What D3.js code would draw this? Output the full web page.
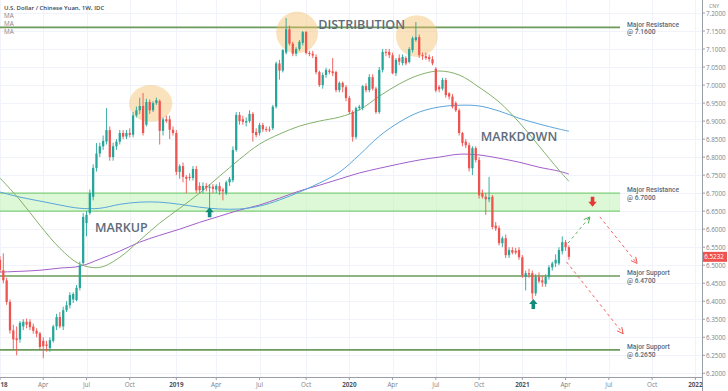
<!DOCTYPE html>
<html><head><meta charset="utf-8">
<script src="https://cdn.jsdelivr.net/npm/d3@7"></script>
<style>html,body{margin:0;padding:0;background:#fff;}svg{display:block;font-family:"Open Sans",sans-serif;}</style>
</head><body><svg id="c" width="728" height="391"></svg>
<script>
// ---------- DATA ----------
const firstWeek = "2017-12-25";
// weekly candles [open, high, low, close]
const ohlc2018 = [
[6.515,6.525,6.48,6.487],[6.486,6.533,6.45,6.458],[6.458,6.465,6.39,6.398],[6.398,6.405,6.31,6.319],
[6.319,6.335,6.264,6.294],[6.297,6.33,6.25,6.292],[6.294,6.345,6.285,6.340],[6.33,6.35,6.32,6.343],
[6.343,6.352,6.325,6.335],[6.343,6.35,6.32,6.328],[6.33,6.338,6.31,6.318],[6.318,6.325,6.30,6.31],
[6.311,6.315,6.265,6.273],[6.29,6.30,6.242,6.275],[6.28,6.29,6.26,6.276],[6.27,6.30,6.26,6.292],
[6.29,6.335,6.285,6.33],[6.33,6.365,6.32,6.356],[6.356,6.37,6.325,6.33],[6.33,6.385,6.32,6.375],
[6.375,6.40,6.37,6.389],[6.389,6.425,6.38,6.417],[6.405,6.425,6.395,6.42],[6.403,6.445,6.40,6.437],
[6.437,6.51,6.43,6.50],[6.506,6.645,6.50,6.634],[6.617,6.65,6.58,6.64],[6.645,6.71,6.64,6.70],
[6.69,6.78,6.68,6.77],[6.77,6.839,6.76,6.81],[6.81,6.84,6.80,6.83],[6.83,6.86,6.82,6.845],
[6.843,6.936,6.835,6.875],[6.875,6.885,6.79,6.80],[6.80,6.84,6.79,6.83],[6.83,6.85,6.82,6.843],
[6.843,6.875,6.835,6.867],[6.867,6.875,6.85,6.857],[6.857,6.875,6.85,6.867],[6.867,6.88,6.855,6.862],
[6.862,6.925,6.855,6.916],[6.916,6.94,6.91,6.93],[6.93,6.965,6.92,6.942],[6.942,6.978,6.86,6.867],
[6.89,6.962,6.885,6.953],[6.953,6.96,6.92,6.93],[6.93,6.955,6.925,6.95],[6.95,6.965,6.945,6.958],
[6.956,6.96,6.835,6.873],[6.873,6.91,6.86,6.905],[6.905,6.915,6.895,6.90],[6.905,6.915,6.85,6.876],
[6.876,6.885,6.86,6.867]
];
const ohlc2019 = [
[6.867,6.875,6.75,6.759],[6.759,6.78,6.74,6.775],[6.775,6.785,6.73,6.745],[6.745,6.75,6.70,6.74],
[6.745,6.755,6.735,6.742],[6.742,6.775,6.735,6.767],[6.767,6.775,6.70,6.708],[6.72,6.73,6.70,6.708],
[6.708,6.73,6.70,6.72],[6.72,6.728,6.705,6.715],[6.715,6.725,6.66,6.718],[6.718,6.725,6.70,6.712],
[6.71,6.725,6.70,6.72],[6.72,6.73,6.695,6.705],[6.71,6.715,6.68,6.705],[6.70,6.735,6.695,6.73],
[6.73,6.745,6.72,6.74],[6.736,6.83,6.73,6.82],[6.82,6.925,6.815,6.917],[6.917,6.925,6.89,6.90],
[6.905,6.915,6.89,6.898],[6.896,6.91,6.885,6.90],[6.90,6.93,6.895,6.92],[6.92,6.925,6.843,6.867],
[6.87,6.88,6.855,6.861],[6.867,6.895,6.86,6.889],[6.889,6.895,6.87,6.877],[6.878,6.885,6.87,6.876],
[6.877,6.885,6.87,6.875],[6.88,6.945,6.875,6.94],[6.94,7.065,6.935,7.06],[7.06,7.07,7.015,7.04],
[7.04,7.10,7.035,7.097],[7.09,7.186,7.085,7.155],[7.155,7.165,7.11,7.115],[7.115,7.12,7.08,7.087],
[7.087,7.105,7.08,7.10],[7.10,7.125,7.095,7.12],[7.117,7.15,7.11,7.147],[7.147,7.15,7.085,7.089],
[7.089,7.095,7.08,7.086],[7.087,7.095,7.075,7.082],[7.078,7.085,7.03,7.036],[7.036,7.04,6.995,7.0],
[7.0,7.035,6.99,7.028],[7.028,7.048,7.02,7.042],[7.04,7.045,7.03,7.036],[7.038,7.075,7.025,7.033],
[7.036,7.04,6.98,6.986],[6.986,7.01,6.98,7.006],[7.006,7.01,6.98,6.994],[6.994,7.0,6.955,6.964]
];
const ohlc2020 = [
[6.964,6.97,6.92,6.925],[6.925,6.93,6.843,6.856],[6.856,6.94,6.85,6.936],[6.936,6.945,6.93,6.94],
[6.936,7.0,6.93,6.997],[6.997,7.005,6.98,6.986],[6.986,7.03,6.98,7.022],[7.022,7.03,6.985,6.99],
[6.99,6.995,6.92,6.925],[6.925,7.05,6.92,7.042],[7.042,7.10,7.035,7.092],[7.092,7.10,7.08,7.09],
[7.092,7.10,7.075,7.083],[7.083,7.09,7.03,7.033],[7.033,7.075,7.025,7.07],[7.075,7.085,7.055,7.065],
[7.061,7.085,7.055,7.078],[7.075,7.08,7.055,7.06],[7.064,7.105,7.06,7.10],[7.097,7.135,7.09,7.13],
[7.125,7.175,7.12,7.133],[7.133,7.14,7.075,7.083],[7.083,7.09,7.07,7.08],[7.08,7.09,7.07,7.075],
[7.078,7.085,7.065,7.072],[7.072,7.08,7.055,7.06],[7.045,7.05,6.98,6.985],[6.995,7.0,6.98,6.988],
[6.99,7.02,6.985,7.014],[7.014,7.02,6.965,6.972],[6.977,6.98,6.96,6.968],[6.968,6.975,6.935,6.94],
[6.95,6.955,6.925,6.93],[6.93,6.935,6.86,6.867],[6.867,6.87,6.83,6.839],[6.843,6.85,6.825,6.833],
[6.833,6.84,6.76,6.769],[6.769,6.83,6.75,6.825],[6.825,6.83,6.785,6.792],[6.792,6.80,6.685,6.694],
[6.70,6.71,6.685,6.69],[6.69,6.70,6.64,6.683],[6.683,6.745,6.675,6.688],[6.69,6.695,6.60,6.606],
[6.61,6.62,6.595,6.602],[6.603,6.61,6.555,6.561],[6.561,6.58,6.55,6.575],[6.575,6.585,6.52,6.528],
[6.528,6.55,6.52,6.542],[6.542,6.55,6.53,6.535],[6.54,6.548,6.53,6.535],[6.542,6.55,6.515,6.522]
];
const ohlc2021 = [
[6.522,6.528,6.465,6.472],[6.468,6.485,6.43,6.478],[6.478,6.49,6.465,6.474],[6.478,6.485,6.405,6.422],
[6.422,6.475,6.415,6.467],[6.467,6.48,6.45,6.455],[6.458,6.47,6.44,6.452],[6.448,6.475,6.44,6.467],
[6.467,6.50,6.46,6.494],[6.494,6.51,6.485,6.505],[6.505,6.53,6.495,6.515],[6.505,6.55,6.50,6.542],
[6.539,6.58,6.53,6.564],[6.564,6.57,6.54,6.55],[6.55,6.555,6.515,6.5232]
];
// moving averages, sampled at week indices
const maWeeks = [0,6,12,18,24,30,36,42,48,54,60,66,72,78,84,90,96,102,108,114,120,126,132,138,144,150,156,162,168,171];
const maFast = [6.742,6.681,6.611,6.547,6.503,6.494,6.522,6.569,6.617,6.658,6.700,6.747,6.794,6.836,6.864,6.886,6.900,6.911,6.931,6.969,7.003,7.028,7.039,7.028,6.994,6.953,6.897,6.831,6.764,6.733];
const maMid = [6.703,6.689,6.678,6.667,6.658,6.658,6.669,6.675,6.675,6.669,6.661,6.656,6.656,6.664,6.681,6.703,6.728,6.758,6.806,6.858,6.897,6.925,6.939,6.944,6.942,6.928,6.908,6.892,6.878,6.872];
const maSlow = [6.481,6.483,6.486,6.492,6.497,6.517,6.539,6.564,6.583,6.600,6.619,6.636,6.653,6.667,6.686,6.706,6.722,6.739,6.756,6.769,6.781,6.792,6.800,6.808,6.806,6.797,6.786,6.772,6.761,6.753];
// price axis ticks
const priceTicks = [6.20,6.25,6.30,6.35,6.40,6.45,6.50,6.55,6.60,6.65,6.70,6.75,6.80,6.85,6.90,6.95,7.00,7.05,7.10,7.15,7.20];
// time axis ticks
const timeTickDates = ["2018-01-01","2018-04-01","2018-07-01","2018-10-01","2019-01-01","2019-04-01","2019-07-01","2019-10-01","2020-01-01","2020-04-01","2020-07-01","2020-10-01","2021-01-01","2021-04-01","2021-07-01","2021-10-01","2022-01-01"];
const timeTickLabels = ["18","Apr","Jul","Oct","2019","Apr","Jul","Oct","2020","Apr","Jul","Oct","2021","Apr","Jul","Oct","2022"];
// key levels
const levelPrices = [7.16, 6.47, 6.265];
const zone = [6.65, 6.70];
const levelNotes = [["Major Resistance","@ 7.1600",7.16],["Major Resistance","@ 6.7000",6.70],["Major Support","@ 6.4700",6.47],["Major Support","@ 6.2650",6.265]];
// phase labels [text, week index, price]
const phaseNotes = [["DISTRIBUTION",108.7,7.169],["MARKUP",36.5,6.606],["MARKDOWN",156,6.858]];
// highlighted tops [week, price, rx weeks, ry price]
const topMarks = [[45.3,6.949,6.5,0.051],[89.3,7.146,6.3,0.058],[125.3,7.136,6.3,0.058]];
// block arrows [week, tip price, direction]
const blockArrows = [[63,6.661,"up"],[160.3,6.406,"up"],[178.1,6.662,"down"]];
// projection paths [[week, price] from, to, colour]
const projections = [[[170.7,6.561],[177.3,6.634],"green"],[[180.3,6.634],[191.5,6.505],"red"],[[170.3,6.509],[187.3,6.31],"red"]];
const lastPrice = 6.5232;

// ---------- CHART ----------
const W = 728, H = 391, plotR = 702, plotB = 377;
const svg = d3.select("#c");
const parse = d3.utcParse("%Y-%m-%d");
const t0 = parse(firstWeek);
const x = d3.scaleUtc().domain([t0, parse("2022-01-10")]).range([0, plotR]);
const y = d3.scaleLinear().domain([6.2, 7.2]).range([373.3, 13]);
const wk = i => d3.utcDay.offset(t0, Math.round(i*7));
const xw = i => x(t0) + (x(wk(1)) - x(t0)) * i;

const candles = [...ohlc2018, ...ohlc2019, ...ohlc2020, ...ohlc2021].map((d,i)=>({i, date: wk(i), o:d[0], h:d[1], l:d[2], c:d[3]}));

const defs = svg.append("defs");
defs.append("clipPath").attr("id","clip").append("rect").attr("x",0).attr("y",0).attr("width",plotR).attr("height",plotB);
[["arrR","#ef5350"],["arrG","#4caf50"]].forEach(([id,col])=>{
  defs.append("marker").attr("id",id).attr("viewBox","0 0 8 8").attr("refX",7).attr("refY",4)
    .attr("markerWidth",8).attr("markerHeight",8).attr("markerUnits","userSpaceOnUse").attr("orient","auto")
    .append("path").attr("d","M1,1 L7,4 L1,7").attr("fill","none").attr("stroke",col).attr("stroke-width",0.9);
});

const tickPos = timeTickDates.map(s => x(d3.utcMonday.floor(d3.utcDay.offset(parse(s), -1))));

const plot = svg.append("g").attr("clip-path","url(#clip)");
// grid
plot.selectAll(".hg").data(priceTicks).join("line").attr("x1",0).attr("x2",plotR)
  .attr("y1",d=>Math.round(y(d))+0.5).attr("y2",d=>Math.round(y(d))+0.5).attr("stroke","#f0f3fa");
plot.selectAll(".vg").data(tickPos).join("line").attr("y1",0).attr("y2",plotB)
  .attr("x1",d=>Math.round(d)+0.5).attr("x2",d=>Math.round(d)+0.5).attr("stroke","#f0f3fa");

// zone
plot.append("rect").attr("x",0).attr("width",620).attr("y",y(zone[1])).attr("height",y(zone[0])-y(zone[1]))
  .attr("fill","#bff2b6").attr("fill-opacity",0.55);
plot.selectAll(".zb").data(zone).join("line").attr("x1",0).attr("x2",620).attr("y1",d=>y(d)).attr("y2",d=>y(d))
  .attr("stroke","#7fcf78").attr("stroke-width",1.2);
// levels
plot.selectAll(".lv").data(levelPrices).join("line").attr("x1",0).attr("x2",620).attr("y1",d=>y(d)).attr("y2",d=>y(d))
  .attr("stroke","#6b9a5a").attr("stroke-width",1.6);

// highlight ellipses
plot.selectAll(".el").data(topMarks).join("ellipse").attr("cx",d=>xw(d[0])).attr("cy",d=>y(d[1]))
  .attr("rx",d=>xw(d[2])-xw(0)).attr("ry",d=>y(d[1]-d[3])-y(d[1])).attr("fill","#f5c26b").attr("fill-opacity",0.45);

// moving averages
const maLine = d3.line().x(d=>xw(d[0])).y(d=>y(d[1])).curve(d3.curveCatmullRom.alpha(0.5));
[[maSlow,"#a25fc9"],[maMid,"#5aa6dc"],[maFast,"#83b26a"]].forEach(([arr,col])=>{
  plot.append("path").attr("d",maLine(maWeeks.map((w,k)=>[w,arr[k]]))).attr("fill","none").attr("stroke",col).attr("stroke-width",1);
});

// candles
const bw = (xw(1)-xw(0))*0.68;
const cg = plot.append("g");
cg.selectAll("line").data(candles).join("line").attr("x1",d=>x(d.date)).attr("x2",d=>x(d.date))
  .attr("y1",d=>y(d.h)).attr("y2",d=>y(d.l)).attr("stroke",d=>d.c>=d.o?"#26a69a":"#ef5350").attr("stroke-width",0.9);
cg.selectAll("rect").data(candles).join("rect").attr("x",d=>x(d.date)-bw/2).attr("width",bw)
  .attr("y",d=>y(Math.max(d.o,d.c))).attr("height",d=>Math.max(1,Math.abs(y(d.o)-y(d.c))))
  .attr("fill",d=>d.c>=d.o?"#26a69a":"#ef5350");

// projections
plot.selectAll(".pj").data(projections).join("line").attr("x1",d=>xw(d[0][0])).attr("y1",d=>y(d[0][1]))
  .attr("x2",d=>xw(d[1][0])).attr("y2",d=>y(d[1][1])).attr("stroke",d=>d[2]==="green"?"#4caf50":"#ef5350")
  .attr("stroke-width",0.9).attr("stroke-dasharray","3,3").attr("marker-end",d=>d[2]==="green"?"url(#arrG)":"url(#arrR)");

// block arrows
plot.selectAll(".ba").data(blockArrows).join("path").attr("d",d=>{
  const cx = xw(d[0]), ty = y(d[1]), s = d[2]==="up"?1:-1;
  return `M${cx},${ty} L${cx+4.2},${ty+5*s} L${cx+1.8},${ty+5*s} L${cx+1.8},${ty+10*s} L${cx-1.8},${ty+10*s} L${cx-1.8},${ty+5*s} L${cx-4.2},${ty+5*s} Z`;
}).attr("fill",d=>d[2]==="up"?"#138a7c":"#e53935");

// phase labels
plot.selectAll(".ph").data(phaseNotes).join("text").attr("x",d=>xw(d[1])).attr("y",d=>y(d[2]))
  .attr("text-anchor","middle").attr("dominant-baseline","central").attr("font-size",12.5).attr("font-weight",600)
  .attr("fill","#5d6b7b").text(d=>d[0]);

// level notes (two lines)
const ln = svg.selectAll(".ln").data(levelNotes).join("g").attr("font-family","Roboto, sans-serif").attr("font-size",6.7).attr("font-weight",500).attr("fill","#5a6a7c");
ln.append("text").attr("x",627).attr("y",d=>y(d[2])-0.9).text(d=>d[0]);
ln.append("text").attr("x",627).attr("y",d=>y(d[2])+7.0).text(d=>d[1]);

// axes
svg.append("line").attr("x1",plotR+0.5).attr("x2",plotR+0.5).attr("y1",0).attr("y2",H).attr("stroke","#9a9ea8");
svg.append("line").attr("x1",0).attr("x2",plotR).attr("y1",plotB+0.5).attr("y2",plotB+0.5).attr("stroke","#9a9ea8");
const ya = svg.append("g");
ya.selectAll("line").data(priceTicks).join("line").attr("x1",plotR).attr("x2",plotR+3).attr("y1",d=>y(d)).attr("y2",d=>y(d)).attr("stroke","#9a9ea8");
ya.selectAll("text").data(priceTicks).join("text").attr("x",706).attr("y",d=>y(d)).attr("dominant-baseline","central")
  .attr("font-size",6.3).attr("fill","#7b7f89").text(d=>d3.format(".4f")(d));
svg.append("text").attr("x",714).attr("y",6).attr("text-anchor","middle").attr("dominant-baseline","central").attr("font-size",5.2).attr("fill","#7b7f89").text("CNY");
const xa = svg.append("g");
xa.selectAll("line").data(tickPos).join("line").attr("x1",d=>d).attr("x2",d=>d).attr("y1",plotB).attr("y2",plotB+3).attr("stroke","#9a9ea8");
xa.selectAll("text").data(timeTickLabels).join("text").attr("x",(d,k)=>k===0?0.5:tickPos[k]).attr("y",384.5)
  .attr("text-anchor",(d,k)=>k===0?"start":"middle")
  .attr("dominant-baseline","central").attr("font-size",6.3).attr("font-weight",d=>/^\d/.test(d)?700:400)
  .attr("fill",d=>/^\d/.test(d)?"#50545e":"#7b7f89").text(d=>d);

// last price tag
svg.append("rect").attr("x",plotR+1).attr("y",y(lastPrice)-5).attr("width",24).attr("height",10).attr("fill","#ef5350");
svg.append("text").attr("x",714).attr("y",y(lastPrice)).attr("text-anchor","middle").attr("dominant-baseline","central")
  .attr("font-size",6.3).attr("fill","#fff").text(d3.format(".4f")(lastPrice));

// legend
svg.append("text").attr("x",4).attr("y",7.5).attr("dominant-baseline","central").attr("font-size",6).attr("font-weight",600).attr("fill","#40444e").text("U.S. Dollar / Chinese Yuan, 1W, IDC");
["MA","MA","MA"].forEach((t,k)=>svg.append("text").attr("x",4).attr("y",15.5+k*8.2).attr("dominant-baseline","central").attr("font-size",6.3).attr("fill","#80848e").text(t));
</script></body></html>
